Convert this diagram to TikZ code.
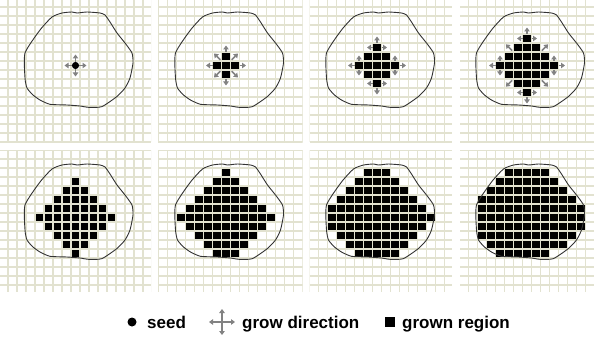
\documentclass[tikz,border=0pt]{standalone}
\usepackage{fontspec}
\setmainfont{Liberation Sans}
\usetikzlibrary{arrows.meta, positioning}

\definecolor{gridbeige}{RGB}{226,226,208}
\definecolor{arrowgray}{RGB}{130,130,130}

\tikzset{
    region outline/.pic={
        \draw[outline] plot[smooth cycle, tension=0.35] coordinates {
            (-50.5,-12.5) (-35.5,-35.5) (-23.5,-48.5) (-13.5,-52.5) (-3.5,-53.5)
            (1.5,-52.5) (11.5,-53.5) (24.5,-52.5) (29.5,-50.5) (34.5,-43.5)
            (41.5,-32.5) (49.5,-22.5) (56.5,-12.5) (57.5,-2.5) (54.5,12.5)
            (49.5,22.5) (41.2,31.2) (26.2,41.2) (12.8,41.8) (4.5,40.5)
            (-8.5,39.5) (-25.5,38.8) (-35.5,34.5) (-42.5,29.5) (-48.5,22.5)
            (-50.5,12.5)};
    }
}

\begin{document}
\begin{tikzpicture}[
        x=1pt, y=-1pt,
        gridline/.style={draw=gridbeige, line width=1.1pt},
        outline/.style={draw=black!80, line width=0.9pt},
        grown/.style={fill=black},
        growarrow/.style={
            draw=arrowgray,
            line width=1.5pt,
            -{Triangle[length=4pt, width=5.5pt]}
        },
        legendtext/.style={
            font=\fontsize{17}{20}\selectfont\bfseries,
            inner sep=0pt,
            anchor=base west
        }
    ]
    \useasboundingbox (0,0) rectangle (594,342);

    % grown cells, one row at a time: dy / first dx / last dx
    \begin{scope}[shift={(226,65.5)}]
        \foreach \dy/\a/\b in {-1/0/0, 0/-1/1, 1/0/0}
            \fill[grown] (9*\a-4.5,9*\dy-4.5) rectangle (9*\b+4.5,9*\dy+4.5);
    \end{scope}
    \begin{scope}[shift={(377,65.5)}]
        \foreach \dy/\a/\b in {-2/0/0, -1/-1/1, 0/-2/2, 1/-1/1, 2/0/0}
            \fill[grown] (9*\a-4.5,9*\dy-4.5) rectangle (9*\b+4.5,9*\dy+4.5);
    \end{scope}
    \begin{scope}[shift={(527,65.5)}]
        \foreach \dy/\a/\b in {-3/0/0, -2/-1/1, -1/-2/2, 0/-3/3, 1/-2/2, 2/-1/1, 3/0/0}
            \fill[grown] (9*\a-4.5,9*\dy-4.5) rectangle (9*\b+4.5,9*\dy+4.5);
    \end{scope}
    \begin{scope}[shift={(75.5,217.5)}]
        \foreach \dy/\a/\b in {-4/0/0, -3/-1/1, -2/-2/2, -1/-3/3, 0/-4/4,
                               1/-3/3, 2/-2/2, 3/-1/1, 4/0/0}
            \fill[grown] (9*\a-4.5,9*\dy-4.5) rectangle (9*\b+4.5,9*\dy+4.5);
    \end{scope}
    \begin{scope}[shift={(226,217.5)}]
        \foreach \dy/\a/\b in {-5/0/0, -4/-1/1, -3/-2/2, -2/-3/3, -1/-4/4, 0/-5/5,
                               1/-4/4, 2/-3/3, 3/-2/2, 4/-1/1}
            \fill[grown] (9*\a-4.5,9*\dy-4.5) rectangle (9*\b+4.5,9*\dy+4.5);
    \end{scope}
    \begin{scope}[shift={(377,217.5)}]
        \foreach \dy/\a/\b in {-5/-1/1, -4/-2/2, -3/-3/3, -2/-4/4, -1/-5/5, 0/-5/6,
                               1/-5/5, 2/-4/4, 3/-3/3, 4/-2/2}
            \fill[grown] (9*\a-4.5,9*\dy-4.5) rectangle (9*\b+4.5,9*\dy+4.5);
    \end{scope}
    \begin{scope}[shift={(527,217.5)}]
        \foreach \dy/\a/\b in {-5/-2/2, -4/-3/3, -3/-4/4, -2/-5/5, -1/-5/6, 0/-5/6,
                               1/-5/6, 2/-5/5, 3/-4/4, 4/-3/2}
            \fill[grown] (9*\a-4.5,9*\dy-4.5) rectangle (9*\b+4.5,9*\dy+4.5);
    \end{scope}

    % the eight grids
    \foreach \xa/\xb/\cx in {0/151/75.5, 158/302.5/226, 309.5/452/377, 460/594/527}
    \foreach \ya/\yb/\cy in {0/142/65.5, 150/292/217.5} {
        \begin{scope}
            \clip (\xa,\ya) rectangle (\xb,\yb);
            \foreach \k in {-9,...,9} {
                \draw[gridline] (\cx+9*\k+4.5,\ya) -- (\cx+9*\k+4.5,\yb);
                \draw[gridline] (\xa,\cy+9*\k+4.5) -- (\xb,\cy+9*\k+4.5);
            }
        \end{scope}
    }

    % region borders
    \foreach \cx in {75.5, 226, 377, 527} {
        \pic at (\cx,65.5) {region outline};
        \pic at (\cx,217.5) {region outline};
    }

    % step 1: seed
    \begin{scope}[shift={(75.5,65.5)}]
        \foreach \ang in {0,90,180,270}
            \draw[growarrow] (\ang:3) -- (\ang:11);
        \fill (0,0) circle (3.6);
    \end{scope}
    % step 2
    \begin{scope}[shift={(226,65.5)}]
        \foreach \ang in {0,90,180,270}
            \draw[growarrow] (\ang:13.5) -- (\ang:20);
        \foreach \ang in {45,135,225,315}
            \draw[growarrow] (\ang:8) -- (\ang:17);
    \end{scope}
    % step 3
    \begin{scope}[shift={(377,65.5)}]
        \foreach \ang in {0,90,180,270} {
            \draw[growarrow] ([shift={(\ang:18)}]\ang:4.5) -- ([shift={(\ang:18)}]\ang:11);
            \draw[growarrow] ([shift={(\ang:18)}]\ang+90:4.5) -- ([shift={(\ang:18)}]\ang+90:10);
            \draw[growarrow] ([shift={(\ang:18)}]\ang-90:4.5) -- ([shift={(\ang:18)}]\ang-90:10);
        }
    \end{scope}
    % step 4
    \begin{scope}[shift={(527,65.5)}]
        \foreach \ang in {0,90,180,270} {
            \draw[growarrow] ([shift={(\ang:27)}]\ang:4.5) -- ([shift={(\ang:27)}]\ang:11);
            \draw[growarrow] ([shift={(\ang:27)}]\ang+90:4.5) -- ([shift={(\ang:27)}]\ang+90:10);
            \draw[growarrow] ([shift={(\ang:27)}]\ang-90:4.5) -- ([shift={(\ang:27)}]\ang-90:10);
        }
        \foreach \ang in {45,135,225,315}
            \draw[growarrow] (\ang:21) -- (\ang:30);
    \end{scope}

    % legend
    \fill (132,322) circle (4.5);
    \node (seedlbl) [legendtext] at (147,328) {seed};
    \coordinate (dircenter) at (222,322);
    \foreach \ang in {0,90,180,270}
        \draw[growarrow] (dircenter) -- ++(\ang:13);
    \node (dirlbl) [legendtext] at (242,328) {grow direction};
    \fill (385,317) rectangle (395,327);
    \node (grownlbl) [legendtext] at (402,328) {grown region};

\end{tikzpicture}
\end{document}
